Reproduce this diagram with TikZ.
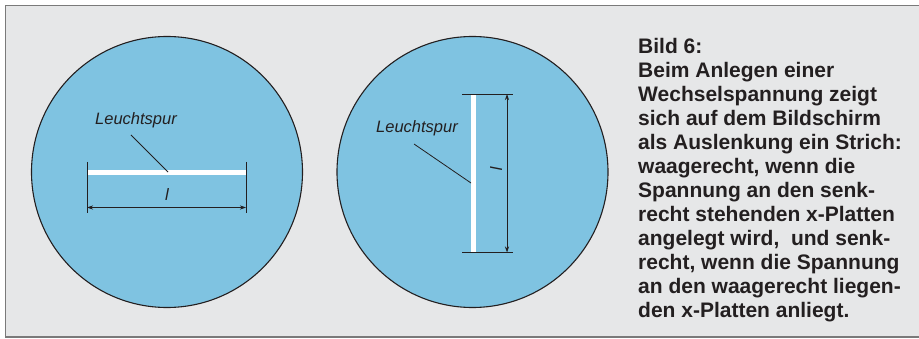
\documentclass[tikz,border=0pt]{standalone}
\usepackage{fontspec}
\setmainfont{Liberation Sans}
\usetikzlibrary{arrows.meta}
\definecolor{panel}{HTML}{E6E7E8}
\definecolor{frame}{HTML}{7A7A7A}
\definecolor{screen}{HTML}{7FC3E1}
\definecolor{ink}{HTML}{231F20}

\tikzset{
  screenbox/.style={circle, draw=ink, line width=1.1pt, fill=screen, minimum size=271pt, inner sep=0pt},
  trace/.style={white, line width=5pt},
  dimline/.style={ink, line width=0.8pt},
  dimarrow/.style={ink, line width=0.8pt, {Stealth[length=6pt,width=4pt]}-{Stealth[length=6pt,width=4pt]}},
  leader/.style={ink, line width=0.8pt},
  tag/.style={text=ink, inner sep=0pt, font=\fontsize{16.5}{18}\selectfont\itshape}
}

\begin{document}
\begin{tikzpicture}[x=1pt, y=-1pt]
  \useasboundingbox (0,0) rectangle (919,339);
  \fill[white] (0,0) rectangle (919,339);
  \fill[panel] (5.5,5.5) rectangle (919,337);
  \draw[frame, line width=1.2pt] (919,5.5) -- (5.5,5.5) -- (5.5,337) -- (919,337);

  % left screen: horizontal trace
  \node[screenbox] (screenL) at (167,172) {};
  \draw[trace] (87.5,173) -- (245.5,173);
  \draw[dimline] (87,162) -- (87,213);
  \draw[dimline] (246,162) -- (246,213);
  \coordinate (dimLa) at (87,207.5);
  \coordinate (dimLb) at (246,207.5);
  \draw[dimarrow] (dimLa) -- (dimLb);
  \node[tag] (lenL) at (167,195) {l};
  \node[tag] (spurL) at (136,120) {Leuchtspur};
  \coordinate (leadL) at (131,135);
  \coordinate (tipL) at (168,172);
  \draw[leader] (leadL) -- (tipL);

  % right screen: vertical trace
  \node[screenbox] (screenR) at (472.5,172) {};
  \draw[trace] (473,94) -- (473,252);
  \draw[dimline] (462,94) -- (513,94);
  \draw[dimline] (462,252.5) -- (513,252.5);
  \coordinate (dimRa) at (507,94);
  \coordinate (dimRb) at (507,252.5);
  \draw[dimarrow] (dimRa) -- (dimRb);
  \node[tag, rotate=-90] (lenR) at (496,168) {l};
  \node[tag] (spurR) at (417,128) {Leuchtspur};
  \coordinate (leadR) at (414,144);
  \coordinate (tipR) at (471,183);
  \draw[leader] (leadR) -- (tipR);

  % caption
  \node[anchor=north west, inner sep=0pt, align=left, text=ink,
        font=\fontsize{21}{24}\selectfont\bfseries] (caption) at (638,38)
    {Bild 6:\\
     Beim Anlegen einer\\
     Wechselspannung zeigt\\
     sich auf dem Bildschirm\\
     als Auslenkung ein Strich:\\
     waagerecht, wenn die\\
     Spannung an den senk-\\
     recht stehenden x-Platten\\
     angelegt wird,\ \ und senk-\\
     recht, wenn die Spannung\\
     an den waagerecht liegen-\\
     den x-Platten anliegt.};
\end{tikzpicture}
\end{document}
